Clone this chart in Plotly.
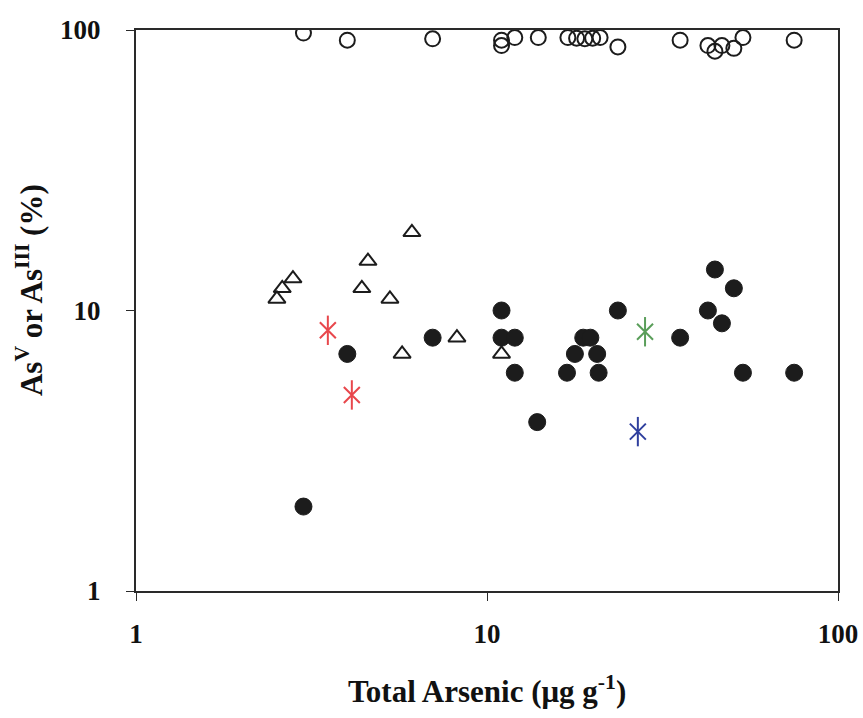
import plotly.graph_objects as go

# Total arsenic (ug/g) and arsenic species share (%)
asv_x = [3.0, 4.0, 7.0, 11.0, 11.0, 12.0, 14.0, 17.0, 18.0, 19.0, 20.0, 21.0,
         23.6, 35.5, 42.6, 44.6, 46.7, 50.5, 53.6, 75.0]
asv_y = [97.5, 92, 93, 92, 88, 94, 94, 94, 93.5, 93, 93.5, 94,
         87, 92, 88, 84, 88, 86, 94, 92]

asiii_x = [3.0, 4.0, 7.0, 11.0, 11.0, 12.0, 12.0, 13.9, 16.9, 17.8, 18.8, 19.7,
           20.6, 20.8, 23.6, 35.5, 42.6, 44.6, 46.7, 50.5, 53.6, 75.0]
asiii_y = [2, 7, 8, 10, 8, 8, 6, 4, 6, 7, 8, 8,
           7, 6, 10, 8, 10, 14, 9, 12, 6, 6]

tri_x = [2.52, 2.61, 2.80, 4.40, 4.58, 5.29, 5.73, 6.11, 8.21, 11.0]
tri_y = [11, 12, 13, 12, 15, 11, 7, 19, 8, 7]

red_x = [3.52, 4.12]
red_y = [8.5, 5.0]
green_x = [28.2]
green_y = [8.4]
blue_x = [26.9]
blue_y = [3.7]

tick_vals = [1, 10, 100]
tick_text = ["1", "10", "100"]

FONT = "Liberation Serif"
INK = "#1c1c1c"
TXT = "#111111"

fig = go.Figure()

fig.add_trace(go.Scatter(
    x=tri_x, y=tri_y, mode="markers",
    marker=dict(symbol="triangle-up-open", size=15, color=INK,
                line=dict(width=2, color=INK)),
    showlegend=False))

fig.add_trace(go.Scatter(
    x=asiii_x, y=asiii_y, mode="markers",
    marker=dict(symbol="circle", size=17, color=INK,
                line=dict(width=1, color=INK)),
    showlegend=False))

fig.add_trace(go.Scatter(
    x=asv_x, y=asv_y, mode="markers",
    marker=dict(symbol="circle-open", size=15, color=INK,
                line=dict(width=2, color=INK)),
    showlegend=False))

# six-armed star markers: an x plus a vertical bar
for sx, sy, col in [(red_x, red_y, "#e8474c"),
                    (green_x, green_y, "#5a9e5a"),
                    (blue_x, blue_y, "#2f3f9e")]:
    fig.add_trace(go.Scatter(
        x=sx, y=sy, mode="markers",
        marker=dict(symbol="x-thin-open", size=16, color=col,
                    line=dict(width=2, color=col)),
        showlegend=False))
    fig.add_trace(go.Scatter(
        x=sx, y=sy, mode="markers",
        marker=dict(symbol="line-ns-open", size=21, color=col,
                    line=dict(width=2, color=col)),
        showlegend=False))

axis_common = dict(
    type="log", range=[0, 2], tickvals=tick_vals,
    ticktext=["<b>%s</b>" % t for t in tick_text],
    showgrid=False, zeroline=False, showline=True, linecolor="#2a2a2a",
    linewidth=2, mirror=True, ticks="outside", ticklen=8, tickwidth=1,
    tickcolor="#2a2a2a", automargin=False,
    tickfont=dict(family=FONT, size=27, color=TXT),
)

fig.update_xaxes(**axis_common, ticklabelstandoff=10)
fig.update_yaxes(**axis_common, ticklabelstandoff=20)

fig.update_layout(
    width=863, height=718,
    margin=dict(l=136, r=25, t=30, b=127),
    paper_bgcolor="white", plot_bgcolor="white",
    font=dict(family=FONT, color=TXT),
    annotations=[
        dict(text="<b>Total Arsenic (μg g<sup>-1</sup>)</b>",
             xref="paper", yref="paper", x=0.5, y=-0.176,
             xanchor="center", yanchor="middle", showarrow=False,
             font=dict(family=FONT, size=31, color=TXT)),
        dict(text="<b>As<sup>V</sup> or As<sup>III</sup> (%)</b>",
             xref="paper", yref="paper", x=-0.152, y=0.537,
             xanchor="center", yanchor="middle", showarrow=False,
             textangle=-90,
             font=dict(family=FONT, size=31, color=TXT)),
    ],
)

fig.write_html("out.html")
